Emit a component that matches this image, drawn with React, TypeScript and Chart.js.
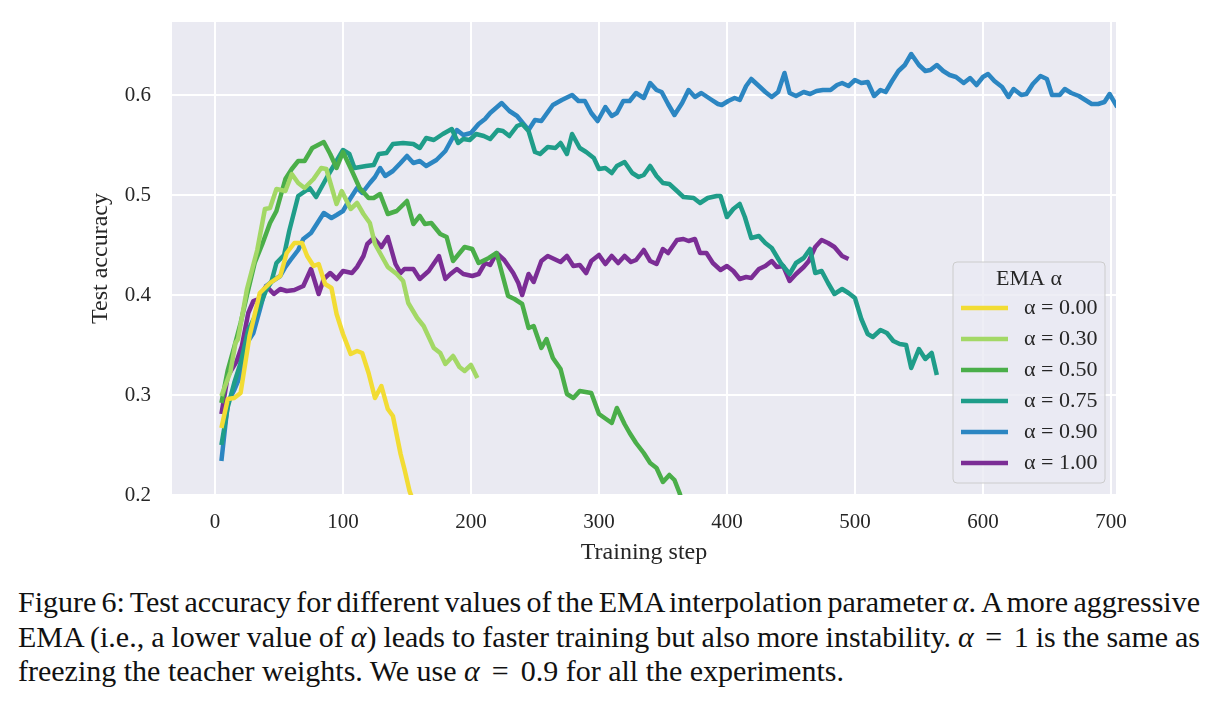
import React, { useEffect, useRef } from "react";
import { Chart, registerables } from "chart.js";

Chart.register(...registerables);

// Test accuracy over training steps for each EMA interpolation value
const STEPS_A000 = [5, 10, 15, 20, 27, 35, 43, 51, 56, 62, 68, 72, 77, 81, 86, 91, 95, 100, 106, 111, 115, 120, 125, 130, 135, 139, 145, 148, 152, 156];
const ACC_A000 = [0.267, 0.296, 0.297, 0.302, 0.359, 0.402, 0.412, 0.419, 0.442, 0.452, 0.452, 0.439, 0.429, 0.431, 0.411, 0.407, 0.381, 0.361, 0.341, 0.344, 0.342, 0.322, 0.297, 0.309, 0.286, 0.279, 0.241, 0.226, 0.204, 0.19];

const STEPS_A030 = [5, 12, 16, 18, 25, 33, 39, 43, 48, 55, 60, 65, 70, 77, 83, 87, 95, 99, 106, 111, 116, 121, 125, 135, 142, 147, 151, 158, 163, 171, 176, 180, 186, 191, 195, 200, 205];
const ACC_A030 = [0.299, 0.323, 0.352, 0.356, 0.406, 0.445, 0.486, 0.487, 0.506, 0.504, 0.521, 0.512, 0.507, 0.516, 0.527, 0.526, 0.491, 0.504, 0.486, 0.492, 0.481, 0.472, 0.451, 0.428, 0.421, 0.414, 0.392, 0.377, 0.369, 0.347, 0.342, 0.331, 0.339, 0.328, 0.324, 0.33, 0.317];

const STEPS_A050 = [5, 10, 15, 20, 25, 31, 37, 43, 48, 55, 60, 65, 70, 76, 85, 90, 95, 100, 107, 113, 120, 124, 129, 135, 142, 150, 155, 160, 164, 169, 176, 181, 186, 195, 201, 206, 214, 220, 229, 234, 240, 245, 249, 255, 259, 264, 270, 275, 280, 285, 294, 300, 310, 314, 320, 324, 329, 335, 340, 345, 350, 355, 359, 363, 367];
const ACC_A050 = [0.292, 0.325, 0.348, 0.372, 0.4, 0.432, 0.451, 0.472, 0.484, 0.516, 0.526, 0.534, 0.534, 0.547, 0.553, 0.541, 0.527, 0.543, 0.524, 0.507, 0.497, 0.497, 0.501, 0.481, 0.484, 0.494, 0.471, 0.479, 0.471, 0.472, 0.461, 0.458, 0.434, 0.448, 0.446, 0.432, 0.437, 0.442, 0.399, 0.396, 0.391, 0.367, 0.369, 0.347, 0.356, 0.337, 0.326, 0.301, 0.297, 0.304, 0.302, 0.281, 0.272, 0.287, 0.271, 0.262, 0.252, 0.242, 0.232, 0.227, 0.213, 0.22, 0.215, 0.202, 0.185];

const STEPS_A075 = [5, 10, 15, 20, 26, 31, 36, 40, 44, 48, 54, 58, 65, 74, 79, 88, 100, 105, 109, 118, 124, 128, 134, 139, 147, 155, 160, 165, 171, 178, 185, 190, 194, 199, 204, 210, 215, 221, 225, 230, 236, 240, 245, 250, 254, 260, 266, 270, 275, 279, 285, 290, 296, 300, 305, 310, 314, 320, 326, 331, 335, 340, 345, 350, 355, 361, 366, 374, 379, 385, 392, 395, 400, 405, 410, 414, 419, 425, 430, 435, 442, 449, 454, 460, 465, 469, 474, 479, 484, 490, 495, 500, 505, 510, 514, 520, 525, 530, 535, 540, 544, 550, 555, 560, 564];
const ACC_A075 = [0.25, 0.288, 0.312, 0.332, 0.365, 0.378, 0.392, 0.405, 0.413, 0.432, 0.44, 0.464, 0.499, 0.507, 0.498, 0.519, 0.545, 0.541, 0.527, 0.529, 0.53, 0.541, 0.542, 0.551, 0.552, 0.551, 0.547, 0.557, 0.555, 0.561, 0.566, 0.552, 0.556, 0.555, 0.561, 0.559, 0.556, 0.565, 0.564, 0.559, 0.569, 0.571, 0.564, 0.543, 0.541, 0.548, 0.547, 0.552, 0.541, 0.561, 0.547, 0.543, 0.537, 0.526, 0.527, 0.522, 0.529, 0.533, 0.522, 0.518, 0.52, 0.529, 0.519, 0.512, 0.511, 0.504, 0.498, 0.497, 0.492, 0.497, 0.499, 0.499, 0.478, 0.486, 0.491, 0.478, 0.457, 0.459, 0.452, 0.447, 0.432, 0.421, 0.432, 0.437, 0.446, 0.422, 0.424, 0.412, 0.401, 0.406, 0.402, 0.397, 0.376, 0.361, 0.358, 0.365, 0.362, 0.354, 0.351, 0.35, 0.327, 0.346, 0.336, 0.342, 0.32];

const STEPS_A090 = [5, 10, 15, 20, 25, 30, 35, 40, 45, 51, 55, 59, 65, 69, 75, 80, 85, 91, 95, 100, 105, 111, 115, 121, 125, 129, 133, 139, 145, 150, 155, 160, 165, 173, 180, 189, 194, 200, 206, 211, 215, 224, 230, 236, 245, 250, 255, 264, 271, 279, 284, 289, 294, 299, 305, 310, 314, 319, 324, 329, 335, 340, 345, 349, 354, 359, 365, 370, 375, 380, 387, 393, 396, 401, 406, 410, 415, 419, 425, 430, 435, 440, 445, 449, 454, 460, 465, 470, 475, 481, 486, 490, 495, 500, 505, 510, 515, 520, 524, 529, 534, 539, 544, 550, 555, 559, 564, 569, 574, 579, 585, 590, 595, 600, 604, 609, 615, 620, 624, 630, 634, 639, 645, 650, 654, 660, 664, 669, 675, 680, 685, 690, 695, 699, 705];
const ACC_A090 = [0.234, 0.292, 0.305, 0.32, 0.352, 0.362, 0.385, 0.409, 0.414, 0.419, 0.428, 0.435, 0.445, 0.456, 0.462, 0.472, 0.482, 0.477, 0.48, 0.484, 0.495, 0.507, 0.502, 0.512, 0.518, 0.527, 0.519, 0.524, 0.532, 0.539, 0.532, 0.534, 0.529, 0.535, 0.544, 0.565, 0.56, 0.562, 0.571, 0.576, 0.582, 0.592, 0.584, 0.579, 0.565, 0.575, 0.574, 0.59, 0.595, 0.6, 0.594, 0.594, 0.582, 0.574, 0.588, 0.579, 0.582, 0.594, 0.594, 0.602, 0.597, 0.612, 0.605, 0.603, 0.591, 0.58, 0.592, 0.605, 0.598, 0.602, 0.596, 0.591, 0.59, 0.594, 0.597, 0.595, 0.609, 0.616, 0.609, 0.603, 0.598, 0.603, 0.622, 0.602, 0.599, 0.603, 0.601, 0.604, 0.605, 0.605, 0.61, 0.612, 0.609, 0.615, 0.612, 0.613, 0.599, 0.605, 0.603, 0.614, 0.624, 0.63, 0.641, 0.63, 0.624, 0.625, 0.63, 0.624, 0.62, 0.618, 0.612, 0.617, 0.61, 0.618, 0.621, 0.614, 0.608, 0.598, 0.606, 0.6, 0.601, 0.611, 0.619, 0.616, 0.6, 0.6, 0.606, 0.602, 0.599, 0.595, 0.591, 0.591, 0.593, 0.601, 0.588];

const STEPS_A100 = [5, 10, 17, 21, 26, 30, 34, 40, 46, 51, 56, 62, 69, 75, 81, 85, 90, 95, 100, 107, 111, 116, 119, 124, 130, 135, 141, 145, 148, 155, 160, 167, 175, 180, 184, 189, 194, 201, 206, 211, 215, 220, 226, 233, 237, 240, 245, 249, 255, 260, 270, 275, 280, 285, 290, 294, 300, 305, 310, 315, 320, 325, 329, 335, 340, 345, 350, 354, 361, 366, 370, 375, 379, 384, 389, 395, 400, 405, 410, 415, 419, 425, 430, 435, 439, 444, 449, 454, 460, 464, 469, 474, 479, 484, 490, 495];
const ACC_A100 = [0.281, 0.319, 0.334, 0.349, 0.382, 0.394, 0.396, 0.409, 0.401, 0.406, 0.404, 0.405, 0.409, 0.426, 0.401, 0.416, 0.422, 0.416, 0.424, 0.422, 0.428, 0.439, 0.451, 0.457, 0.448, 0.458, 0.431, 0.422, 0.426, 0.426, 0.416, 0.424, 0.439, 0.416, 0.421, 0.426, 0.421, 0.419, 0.421, 0.432, 0.43, 0.442, 0.435, 0.422, 0.412, 0.4, 0.421, 0.413, 0.434, 0.439, 0.433, 0.439, 0.429, 0.43, 0.422, 0.434, 0.44, 0.431, 0.439, 0.432, 0.439, 0.433, 0.435, 0.445, 0.434, 0.431, 0.446, 0.442, 0.455, 0.456, 0.454, 0.456, 0.442, 0.442, 0.432, 0.425, 0.429, 0.424, 0.416, 0.418, 0.417, 0.426, 0.429, 0.434, 0.428, 0.429, 0.414, 0.421, 0.428, 0.434, 0.448, 0.455, 0.452, 0.448, 0.439, 0.436];

const SERIES_LABELS = ["α = 0.00", "α = 0.30", "α = 0.50", "α = 0.75", "α = 0.90", "α = 1.00"];
const SERIES_COLORS = ["#f2dc34", "#a3d866", "#4aae49", "#1f9d89", "#2c86c2", "#7b2d95"];
const SERIES_STEPS = [STEPS_A000, STEPS_A030, STEPS_A050, STEPS_A075, STEPS_A090, STEPS_A100];
const SERIES_ACC = [ACC_A000, ACC_A030, ACC_A050, ACC_A075, ACC_A090, ACC_A100];

const X_TICKS = [0, 100, 200, 300, 400, 500, 600, 700];
const Y_TICKS = [0.2, 0.3, 0.4, 0.5, 0.6];
const X_MIN = -33.6;
const X_MAX = 704;
const Y_MIN = 0.2;
const Y_MAX = 0.673;

const LEGEND_TITLE = "EMA α";
const SERIF = "'Liberation Serif', 'DejaVu Serif', 'Times New Roman', serif";
const TEXT_COLOR = "#262626";

// Seaborn-style grey panel behind the grid
const panelBackground = {
  id: "panelBackground",
  beforeDraw(chart: any) {
    const { ctx, chartArea } = chart;
    ctx.save();
    ctx.fillStyle = "#eaeaf2";
    ctx.fillRect(chartArea.left, chartArea.top, chartArea.right - chartArea.left, chartArea.bottom - chartArea.top);
    ctx.restore();
  },
};

// Framed legend in the lower-right corner of the panel
const emaLegend = {
  id: "emaLegend",
  afterDraw(chart: any) {
    const { ctx, chartArea } = chart;
    const w = 152;
    const h = 221;
    const x0 = chartArea.right - 11 - w;
    const y0 = chartArea.bottom - 12 - h;
    ctx.save();
    const r = 4;
    ctx.beginPath();
    ctx.moveTo(x0 + r, y0);
    ctx.lineTo(x0 + w - r, y0);
    ctx.arcTo(x0 + w, y0, x0 + w, y0 + r, r);
    ctx.lineTo(x0 + w, y0 + h - r);
    ctx.arcTo(x0 + w, y0 + h, x0 + w - r, y0 + h, r);
    ctx.lineTo(x0 + r, y0 + h);
    ctx.arcTo(x0, y0 + h, x0, y0 + h - r, r);
    ctx.lineTo(x0, y0 + r);
    ctx.arcTo(x0, y0, x0 + r, y0, r);
    ctx.closePath();
    ctx.fillStyle = "rgba(234,234,242,0.8)";
    ctx.fill();
    ctx.strokeStyle = "#cccccc";
    ctx.lineWidth = 1;
    ctx.stroke();

    ctx.fillStyle = TEXT_COLOR;
    ctx.font = `22px ${SERIF}`;
    ctx.textAlign = "center";
    ctx.textBaseline = "middle";
    ctx.fillText(LEGEND_TITLE, x0 + w / 2, y0 + 17);

    chart.data.datasets.forEach((ds: any, i: number) => {
      const yy = y0 + 46 + i * 31;
      ctx.strokeStyle = ds.borderColor;
      ctx.lineWidth = 4.5;
      ctx.lineCap = "butt";
      ctx.beginPath();
      ctx.moveTo(x0 + 8, yy);
      ctx.lineTo(x0 + 55, yy);
      ctx.stroke();
      ctx.fillStyle = TEXT_COLOR;
      ctx.textAlign = "left";
      ctx.fillText(ds.label, x0 + 71, yy);
    });
    ctx.restore();
  },
};

function AccuracyChart() {
  const canvasRef = useRef<HTMLCanvasElement | null>(null);

  useEffect(() => {
    if (!canvasRef.current) return;
    const datasets = SERIES_LABELS.map((label, i) => ({
      label,
      data: SERIES_STEPS[i].map((s, j) => ({ x: s, y: SERIES_ACC[i][j] })),
      borderColor: SERIES_COLORS[i],
      backgroundColor: SERIES_COLORS[i],
      borderWidth: 4.5,
      pointRadius: 0,
      tension: 0,
      borderJoinStyle: "round" as const,
      borderCapStyle: "butt" as const,
      clip: 0,
    }));

    const chart = new Chart(canvasRef.current, {
      type: "line",
      data: { datasets },
      plugins: [panelBackground, emaLegend],
      options: {
        animation: false,
        responsive: false,
        devicePixelRatio: 1,
        layout: { padding: { left: 86, right: 102, top: 22, bottom: 13 } },
        plugins: { legend: { display: false }, tooltip: { enabled: false } },
        scales: {
          x: {
            type: "linear",
            min: X_MIN,
            max: X_MAX,
            afterBuildTicks: (scale: any) => {
              scale.ticks = X_TICKS.map((v) => ({ value: v }));
            },
            afterFit: (scale: any) => {
              scale.height = 72;
              scale.paddingLeft = 0;
              scale.paddingRight = 0;
            },
            grid: { color: "#ffffff", lineWidth: 2, drawTicks: false },
            border: { display: false },
            ticks: {
              padding: 15,
              color: TEXT_COLOR,
              font: { family: SERIF, size: 21 },
              maxRotation: 0,
              callback: (v: any) => String(v),
            },
            title: {
              display: true,
              text: "Training step",
              color: TEXT_COLOR,
              font: { family: SERIF, size: 24 },
              padding: 0,
            },
          },
          y: {
            type: "linear",
            min: Y_MIN,
            max: Y_MAX,
            afterBuildTicks: (scale: any) => {
              scale.ticks = Y_TICKS.map((v) => ({ value: v }));
            },
            afterFit: (scale: any) => {
              scale.width = 86;
              scale.paddingTop = 0;
              scale.paddingBottom = 0;
            },
            grid: { color: "#ffffff", lineWidth: 2, drawTicks: false },
            border: { display: false },
            ticks: {
              padding: 21,
              color: TEXT_COLOR,
              font: { family: SERIF, size: 21 },
              callback: (v: any) => Number(v).toFixed(1),
            },
            title: {
              display: true,
              text: "Test accuracy",
              color: TEXT_COLOR,
              font: { family: SERIF, size: 24 },
              padding: 0,
            },
          },
        },
      },
    });
    return () => chart.destroy();
  }, []);

  return <canvas ref={canvasRef} width={1218} height={580} style={{ display: "block", width: 1218, height: 580 }} />;
}

const lineStyle: React.CSSProperties = {
  whiteSpace: "nowrap",
  textAlign: "justify",
  textAlignLast: "justify",
  height: 34.5,
  lineHeight: "34.5px",
};

// Relation sign with math-style spacing
const Eq = () => <span style={{ padding: "0 0.15em" }}>=</span>;

export default function App() {
  return (
    <div style={{ position: "fixed", left: 0, top: 0, width: 1218, height: 726, background: "#ffffff", overflow: "hidden" }}>
      <AccuracyChart />
      <div
        style={{
          position: "absolute",
          left: 18,
          top: 585,
          width: 1182,
          fontFamily: SERIF,
          fontSize: 30,
          color: "#111111",
        }}
      >
        <div style={{ ...lineStyle, wordSpacing: "-2.5px" }}>
          Figure 6: Test accuracy for different values of the EMA interpolation parameter <i>α</i>. A more aggressive
        </div>
        <div style={{ ...lineStyle, wordSpacing: "-2px" }}>
          EMA (i.e., a lower value of <i>α</i>) leads to faster training but also more instability. <i>α</i> <Eq /> 1 is the same as
        </div>
        <div style={{ ...lineStyle, textAlign: "left", textAlignLast: "left" }}>
          freezing the teacher weights. We use <i>α</i> <Eq /> 0.9 for all the experiments.
        </div>
      </div>
    </div>
  );
}
